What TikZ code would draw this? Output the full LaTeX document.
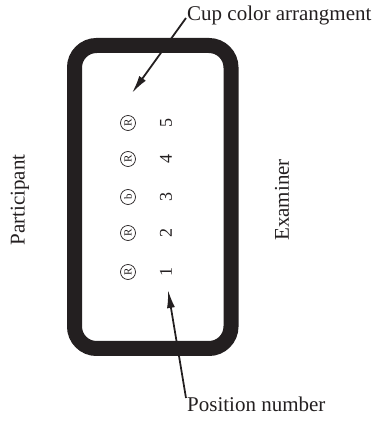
\documentclass[tikz,border=0pt]{standalone}
\usepackage{fontspec}
\setmainfont{Liberation Serif}
\usepackage{tikz}
\usetikzlibrary{positioning, arrows.meta}
\definecolor{inkdark}{RGB}{35,31,32}
\tikzstyle{arrow} = [line width=1.8pt,-{Latex[length=18pt,width=8pt]},inkdark]

\begin{document}
\begin{tikzpicture}[
    x=1pt, y=1pt,
    every node/.style={
        align=center,
        text=inkdark,
        font=\fontsize{21}{25}\selectfont
    },
    cup/.style={
        circle, draw=inkdark, line width=0.7pt,
        inner sep=0pt, minimum size=15pt,
        rotate=90, font=\fontsize{11}{12}\selectfont
    },
    posnum/.style={rotate=90, inner sep=1pt, font=\fontsize{18}{20}\selectfont}
]
\useasboundingbox (0,0) rectangle (374,421);

% ======================
% Table
% ======================
\draw[inkdark, line width=15pt, rounded corners=22pt] (74.5,72.5) rectangle (231,375.5);

% ======================
% Cups and positions
% ======================
\node[cup] (cup1) at (128,149) {R};
\node[cup] (cup2) at (128,188) {R};
\node[cup] (cup3) at (128,224) {b};
\node[cup] (cup4) at (128,262) {R};
\node[cup] (cup5) at (128,298) {R};

\node[posnum] (pos1) at (166,149) {1};
\node[posnum] (pos2) at (166,188) {2};
\node[posnum] (pos3) at (166,224) {3};
\node[posnum] (pos4) at (166,262) {4};
\node[posnum] (pos5) at (166,298) {5};

% ======================
% Sides
% ======================
\node[rotate=90] (participant) at (20,221) {Participant};
\node[rotate=90] (examiner) at (282,221) {Examiner};

% ======================
% Labels
% ======================
\node[anchor=west, inner sep=1pt] (cup_label) at (186,406) {Cup color arrangment};
\node[anchor=north west, inner sep=1pt] (pos_label) at (186,25) {Position number};

\coordinate (cup_tip) at (132,328);
\coordinate (pos_tip) at (168,131);

\draw[arrow] ([yshift=-3pt]cup_label.west) -- (cup_tip);
\draw[arrow] ([yshift=-2pt]pos_label.north west) -- (pos_tip);

\end{tikzpicture}
\end{document}
